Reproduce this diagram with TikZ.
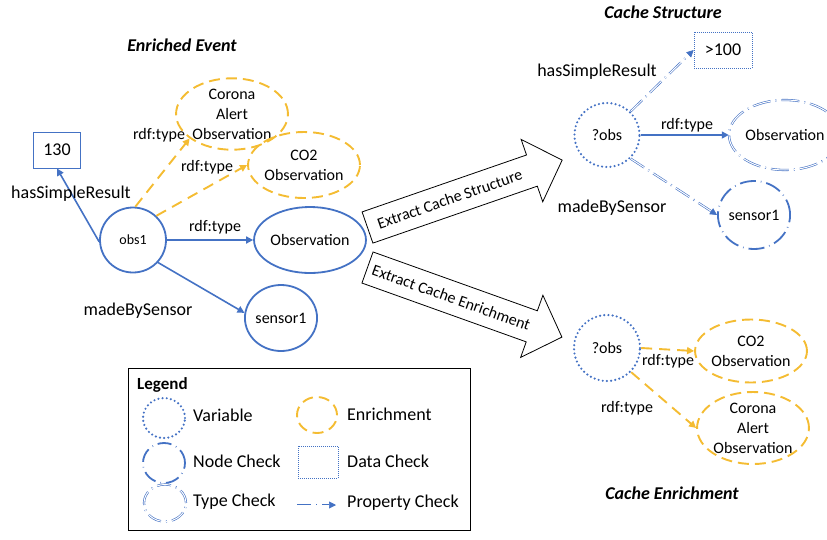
\documentclass[tikz,border=0pt]{standalone}
\usepackage{fontspec}
\setmainfont{Carlito}
\usetikzlibrary{shapes.geometric,arrows.meta}
\definecolor{nodeblue}{RGB}{68,114,196}
\definecolor{enrichgold}{RGB}{244,188,50}

\begin{document}
\begin{tikzpicture}[x=1pt,y=-1pt,
  lbl/.style={font=\fontsize{16}{19}\selectfont, inner sep=0pt},
  biglbl/.style={font=\fontsize{18}{21}\selectfont, inner sep=0pt},
  heading/.style={font=\fontsize{18}{21}\selectfont\bfseries\itshape, inner sep=0pt},
  ell/.style={ellipse, inner sep=0pt, align=center, font=\fontsize{16}{20}\selectfont},
  solidnode/.style={ell, draw=nodeblue, line width=1.8pt},
  enrichnode/.style={ell, draw=enrichgold, line width=1.9pt, dash pattern=on 11pt off 6pt},
  varnode/.style={ell, draw=nodeblue, line width=2.4pt, line cap=round, dash pattern=on 0pt off 4.2pt},
  nodecheck/.style={ell, draw=nodeblue, line width=1.8pt, dash pattern=on 16pt off 5pt on 0.6pt off 5pt},
  typecheck/.style={ell, draw=nodeblue, double=white, line width=0.6pt, double distance=1pt,
    dash pattern=on 18pt off 5pt on 1pt off 5pt},
  datacheck/.style={rectangle, draw=nodeblue, line width=0.7pt, dash pattern=on 1pt off 1pt,
    inner sep=0pt, font=\fontsize{18}{21}\selectfont},
  valbox/.style={rectangle, draw=nodeblue, line width=1pt, inner sep=0pt, font=\fontsize{18}{21}\selectfont},
  tip/.style={-{Triangle[length=7pt,width=7pt]}},
  solidedge/.style={draw=nodeblue, line width=1.6pt, tip},
  enrichedge/.style={draw=enrichgold, line width=1.9pt, dash pattern=on 11pt off 7pt, tip},
  propedge/.style={draw=nodeblue, double=white, line width=0.6pt, double distance=1pt,
    dash pattern=on 16pt off 5pt on 1pt off 5pt, -{Triangle[length=7pt,width=7pt]}},
  bigarrow/.style={draw=black, line width=0.8pt, fill=white},
  arrowtext/.style={font=\fontsize{16}{19}\selectfont, inner sep=0pt}
]
\useasboundingbox (0,0) rectangle (827,539);

% ---------- Enriched event ----------
\node[heading] (tEnriched) at (182,45) {Enriched Event};
\node[valbox, minimum width=47, minimum height=36] (v130) at (57,150) {130};
\node[solidnode, minimum width=66, minimum height=65, font=\fontsize{14}{16}\selectfont] (obs1) at (133,240) {obs1};
\node[enrichnode, minimum width=100, minimum height=68] (corona) at (232,114) {Corona\\Alert\\Observation};
\node[enrichnode, minimum width=90, minimum height=66] (co2) at (304,165) {CO2\\Observation};
\node[solidnode, minimum width=93, minimum height=66] (obsv) at (310,240) {Observation};
\node[solidnode, minimum width=67, minimum height=66] (sensor1) at (281,318) {sensor1};

\draw[solidedge] (obs1.183) -- (v130.south);
\draw[enrichedge] (obs1.86) -- (corona.210);
\draw[enrichedge] (obs1.46) -- (co2.west);
\draw[solidedge] (obs1) -- (obsv);
\draw[solidedge] (obs1.-42) -- (sensor1.172);

\node[biglbl] (lHas1) at (71,194) {hasSimpleResult};
\node[lbl] (lType1) at (159,135) {rdf:type};
\node[lbl] (lType2) at (207,167) {rdf:type};
\node[lbl] (lType3) at (215,227) {rdf:type};
\node[biglbl] (lMade1) at (138,311) {madeBySensor};

% ---------- Block arrows ----------
\begin{scope}[shift={(367.5,227.5)}, rotate=19.1]
  \draw[bigarrow] (0,-16.5) -- (174,-16.5) -- (174,-33) -- (206,0) -- (174,33) -- (174,16.5) -- (0,16.5) -- cycle;
  \node[arrowtext, rotate=19.1] (xStruct) at (87,0) {Extract Cache Structure};
\end{scope}
\begin{scope}[shift={(367.5,267.5)}, rotate=-19.7]
  \draw[bigarrow] (0,-16.5) -- (174.5,-16.5) -- (174.5,-33) -- (206.5,0) -- (174.5,33) -- (174.5,16.5) -- (0,16.5) -- cycle;
  \node[arrowtext, rotate=-19.7] (xEnrich) at (89,0) {Extract Cache Enrichment};
\end{scope}

% ---------- Cache structure ----------
\node[heading] (tStruct) at (663,12) {Cache Structure};
\node[datacheck, minimum width=58, minimum height=36] (v100) at (723,50) {>100};
\node[varnode, minimum width=65, minimum height=64] (qobsS) at (607,135) {?obs};
\node[typecheck, minimum width=90, minimum height=70] (obsT) at (785,135) {Observation};
\node[nodecheck, minimum width=67, minimum height=68] (sensS) at (754,215) {sensor1};

\draw[propedge] (qobsS.45) -- (v100.west);
\draw[solidedge] (qobsS) -- (obsT);
\draw[propedge] (qobsS.-45) -- (sensS.west);

\node[biglbl] (lHas2) at (597,72) {hasSimpleResult};
\node[lbl] (lType4) at (687,125) {rdf:type};
\node[biglbl] (lMade2) at (612,208) {madeBySensor};

% ---------- Cache enrichment ----------
\node[varnode, minimum width=66, minimum height=66] (qobsE) at (607,348) {?obs};
\node[enrichnode, minimum width=94, minimum height=63] (co2E) at (751,351) {CO2\\Observation};
\node[enrichnode, minimum width=98, minimum height=72] (coronaE) at (753,428) {Corona\\Alert\\Observation};

\draw[enrichedge] (qobsE.east) -- (co2E.west);
\draw[enrichedge] (qobsE.-45) -- (coronaE.west);

\node[lbl] (lType5) at (668,361) {rdf:type};
\node[lbl] (lType6) at (627,408) {rdf:type};
\node[heading] (tEnrich) at (672,493) {Cache Enrichment};

% ---------- Legend ----------
\node[draw=black, line width=0.8pt, minimum width=342, minimum height=162, inner sep=0pt] (legend) at (299,449.5) {};
\node[font=\fontsize{17}{20}\selectfont\bfseries, inner sep=0pt, anchor=west] (lgTitle) at (137,385) {Legend};

\node[varnode, minimum width=42, minimum height=40] (lgVar) at (164,418) {};
\node[nodecheck, minimum width=42, minimum height=40, dash pattern=on 14pt off 5pt on 0.6pt off 5pt] (lgNode) at (164,463) {};
\node[typecheck, minimum width=42, minimum height=37, dash pattern=on 14pt off 5pt on 1pt off 5pt] (lgType) at (165,503) {};
\node[enrichnode, minimum width=40, minimum height=36] (lgEnr) at (317,415) {};
\node[datacheck, minimum width=40, minimum height=32] (lgData) at (318,462) {};
\coordinate (lgPa) at (297,505);
\coordinate (lgPb) at (336,505);
\draw[propedge, dash pattern=on 14pt off 5pt on 1pt off 5pt] (lgPa) -- (lgPb);

\node[biglbl, anchor=west] (lgVarT) at (193,415) {Variable};
\node[biglbl, anchor=west] (lgNodeT) at (193,461) {Node Check};
\node[biglbl, anchor=west] (lgTypeT) at (193,502) {Type Check};
\node[biglbl, anchor=west] (lgEnrT) at (347,414) {Enrichment};
\node[biglbl, anchor=west] (lgDataT) at (347,461) {Data Check};
\node[biglbl, anchor=west] (lgPropT) at (347,503) {Property Check};
\end{tikzpicture}
\end{document}
